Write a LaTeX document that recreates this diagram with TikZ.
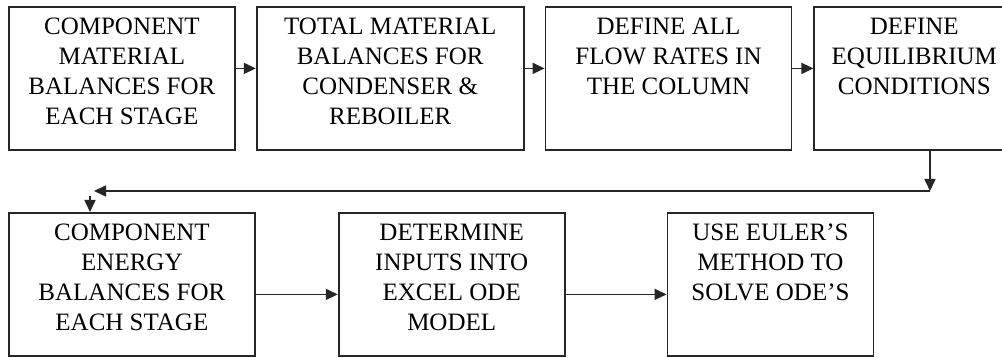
\documentclass[tikz,border=0pt]{standalone}
\usepackage{fontspec}
\setmainfont{Liberation Serif}
\usetikzlibrary{arrows.meta,positioning}

\newcommand{\boxtext}[2]{\parbox[c][143pt][t]{#1}{\centering\vspace*{11pt}#2}}

\begin{document}
\begin{tikzpicture}[x=1pt,y=-1pt,>={Triangle[length=12pt,width=11pt]},
  stage/.style={draw=black!85,line width=1.8pt,inner sep=0pt,fill=white,font=\fontsize{25}{30}\selectfont},
  flow/.style={->,draw=black!85,line width=1.6pt}]
\useasboundingbox[fill=white] (0,0) rectangle (1002,358);
% top row
\node[stage,anchor=north west] (b1) at (8,6) {\boxtext{226pt}{COMPONENT\\MATERIAL\\BALANCES FOR\\EACH STAGE}};
\node[stage,right=20pt of b1] (b2) {\boxtext{267pt}{TOTAL MATERIAL\\BALANCES FOR\\CONDENSER \&\\REBOILER}};
\node[stage,right=20pt of b2] (b3) {\boxtext{246pt}{DEFINE ALL\\FLOW RATES IN\\THE COLUMN}};
\node[stage,right=21pt of b3] (b4) {\boxtext{200pt}{DEFINE\\EQUILIBRIUM\\CONDITIONS}};
% bottom row
\node[stage,anchor=north west] (b5) at (8,212) {\boxtext{246pt}{COMPONENT\\ENERGY\\BALANCES FOR\\EACH STAGE}};
\node[stage,right=82pt of b5] (b6) {\boxtext{226pt}{DETERMINE\\INPUTS INTO\\EXCEL ODE\\MODEL}};
\node[stage,right=101pt of b6] (b7) {\boxtext{206pt}{USE EULER’S\\METHOD TO\\SOLVE ODE’S}};
% return path
\coordinate (turn) at (930,191);
\coordinate (bend) at (94,191);
\coordinate (drop) at (90,196);
\draw[flow] ([yshift=10pt]b1.east) -- ([yshift=10pt]b2.west);
\draw[flow] ([yshift=10pt]b2.east) -- ([yshift=10pt]b3.west);
\draw[flow] ([yshift=10pt]b3.east) -- ([yshift=10pt]b4.west);
\draw[flow] (b4.south -| turn) -- (turn);
\draw[flow] (turn) -- (bend);
\draw[flow] (drop) -- (drop |- b5.north);
\draw[flow] ([yshift=-10pt]b5.east) -- ([yshift=-10pt]b6.west);
\draw[flow] ([yshift=-10pt]b6.east) -- ([yshift=-10pt]b7.west);
\end{tikzpicture}
\end{document}
